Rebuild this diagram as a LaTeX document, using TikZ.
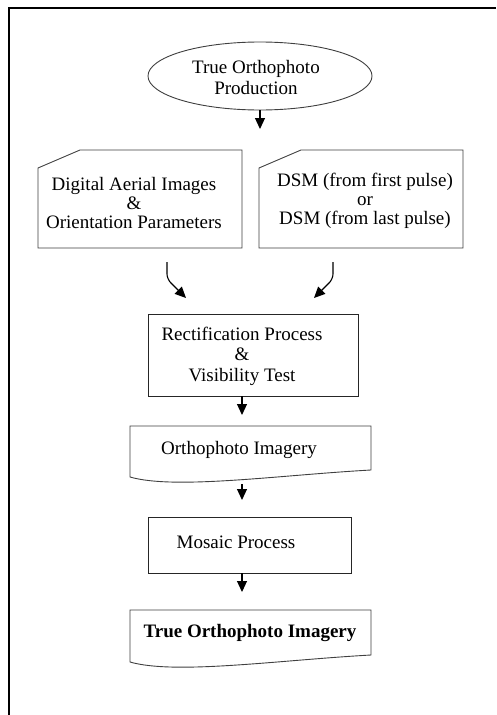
\documentclass[tikz,border=0pt]{standalone}
\usepackage{fontspec}
\setmainfont{Liberation Serif}
\usetikzlibrary{arrows.meta,shapes.geometric,calc}
\begin{document}
\begin{tikzpicture}[x=1pt,y=-1pt,
  outl/.style={draw=black!75,line width=0.9pt},
  blank/.style={draw=none,inner sep=0pt,outer sep=0pt},
  txt/.style={inner sep=0pt,align=center,font=\fontsize{19}{20}\selectfont},
  arr/.style={draw=black,line width=1.1pt,-{Triangle[width=10pt,length=11pt]}}]
\useasboundingbox (0,0) rectangle (496,715);
\fill[white] (0,0) rectangle (496,715);
% frame
\draw[line width=2pt] (9,715) -- (9,8) -- (496,8);

% start ellipse
\node[ellipse,outl,minimum width=224,minimum height=68] (ell) at (260,76) {};
\node[txt,font=\fontsize{19}{21}\selectfont] (ellt) at (256,77) {True Orthophoto\\Production};
\coordinate (e1) at (260,129);
\draw[arr] (ell.south) -- (e1);

% cards
\node[blank,minimum width=204,minimum height=98] (c1) at (140,199) {};
\draw[outl] ([yshift=-18pt]c1.north west) -- ([xshift=42pt]c1.north west) -- (c1.north east) -- (c1.south east) -- (c1.south west) -- cycle;
\node[txt,font=\fontsize{19}{19}\selectfont] (c1t) at (134,203) {Digital Aerial Images\\\&\\Orientation Parameters};

\node[blank,minimum width=204,minimum height=98] (c2) at (361,199) {};
\draw[outl] ([yshift=-18pt]c2.north west) -- ([xshift=42pt]c2.north west) -- (c2.north east) -- (c2.south east) -- (c2.south west) -- cycle;
\node[txt,font=\fontsize{19}{19}\selectfont] (c2t) at (365,201) {DSM (from first pulse)\\or\\DSM (from last pulse)};

% rectification box
\node[outl,blank,draw=black!85,minimum width=210,minimum height=82] (rect) at (253,355) {};
\node[txt,font=\fontsize{19}{20.5}\selectfont] (rectt) at (242,356) {Rectification Process\\\&\\Visibility Test};

% curved arrows from cards
\coordinate (a1s) at (167,262);
\coordinate (a1m) at (167,279);
\coordinate (a1e) at (186,298);
\draw[arr,rounded corners=5pt] (a1s) -- (a1m) -- (a1e);
\coordinate (a2s) at (333,262);
\coordinate (a2m) at (333,279);
\coordinate (a2e) at (314,298);
\draw[arr,rounded corners=5pt] (a2s) -- (a2m) -- (a2e);

% orthophoto imagery (document shape)
\node[blank,minimum width=241,minimum height=51] (doc1) at (250.5,451.5) {};
\draw[outl] (doc1.south west) -- (doc1.north west) -- (doc1.north east) -- ([yshift=7pt]doc1.south east)
  .. controls ($(doc1.south east)+(-91,-2)$) and ($(doc1.south west)+(45,13)$) .. (doc1.south west) -- cycle;
\node[txt] (doc1t) at (239,450) {Orthophoto Imagery};
\coordinate (r1s) at (242,396);
\coordinate (r1e) at (242,415);
\draw[arr] (r1s) -- (r1e);

% mosaic box
\node[outl,blank,draw=black!85,minimum width=203,minimum height=56] (mos) at (249.5,545) {};
\node[txt] (most) at (236,542) {Mosaic Process};
\coordinate (m1s) at (242,484);
\coordinate (m1e) at (242,500);
\draw[arr] (m1s) -- (m1e);
\coordinate (m2s) at (242,573);
\coordinate (m2e) at (242,592);
\draw[arr] (m2s) -- (m2e);

% true orthophoto imagery (document shape)
\node[blank,minimum width=241,minimum height=52] (doc2) at (250.5,636) {};
\draw[outl] (doc2.south west) -- (doc2.north west) -- (doc2.north east) -- ([yshift=7pt]doc2.south east)
  .. controls ($(doc2.south east)+(-91,-2)$) and ($(doc2.south west)+(45,13)$) .. (doc2.south west) -- cycle;
\node[txt,font=\fontsize{19}{20}\selectfont\bfseries] (doc2t) at (250,633) {True Orthophoto Imagery};
\end{tikzpicture}
\end{document}
